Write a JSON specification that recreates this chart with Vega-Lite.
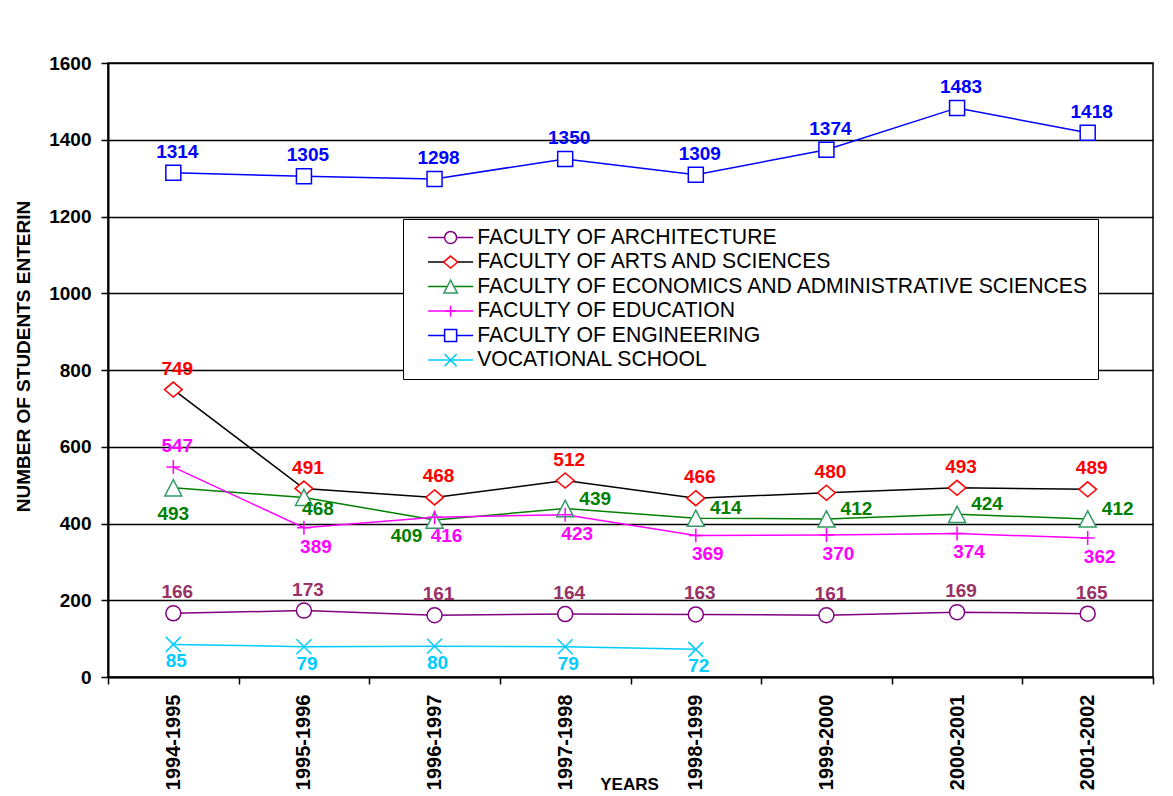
{
  "$schema": "https://vega.github.io/schema/vega-lite/v6.json",
  "width": 1045,
  "height": 614,
  "autosize": {"type": "none"},
  "padding": {"left": 108, "top": 63, "right": 20, "bottom": 119},
  "background": "white",
  "config": {
    "font": "Liberation Sans",
    "view": {"stroke": "black", "strokeWidth": 1.5}
  },
  "data": {
    "values": [
      {"faculty": "FACULTY OF ARCHITECTURE", "year": "1994-1995", "students": 166},
      {"faculty": "FACULTY OF ARCHITECTURE", "year": "1995-1996", "students": 173},
      {"faculty": "FACULTY OF ARCHITECTURE", "year": "1996-1997", "students": 161},
      {"faculty": "FACULTY OF ARCHITECTURE", "year": "1997-1998", "students": 164},
      {"faculty": "FACULTY OF ARCHITECTURE", "year": "1998-1999", "students": 163},
      {"faculty": "FACULTY OF ARCHITECTURE", "year": "1999-2000", "students": 161},
      {"faculty": "FACULTY OF ARCHITECTURE", "year": "2000-2001", "students": 169},
      {"faculty": "FACULTY OF ARCHITECTURE", "year": "2001-2002", "students": 165},
      {"faculty": "FACULTY OF ARTS AND SCIENCES", "year": "1994-1995", "students": 749},
      {"faculty": "FACULTY OF ARTS AND SCIENCES", "year": "1995-1996", "students": 491},
      {"faculty": "FACULTY OF ARTS AND SCIENCES", "year": "1996-1997", "students": 468},
      {"faculty": "FACULTY OF ARTS AND SCIENCES", "year": "1997-1998", "students": 512},
      {"faculty": "FACULTY OF ARTS AND SCIENCES", "year": "1998-1999", "students": 466},
      {"faculty": "FACULTY OF ARTS AND SCIENCES", "year": "1999-2000", "students": 480},
      {"faculty": "FACULTY OF ARTS AND SCIENCES", "year": "2000-2001", "students": 493},
      {"faculty": "FACULTY OF ARTS AND SCIENCES", "year": "2001-2002", "students": 489},
      {"faculty": "FACULTY OF ECONOMICS AND ADMINISTRATIVE SCIENCES", "year": "1994-1995", "students": 493},
      {"faculty": "FACULTY OF ECONOMICS AND ADMINISTRATIVE SCIENCES", "year": "1995-1996", "students": 468},
      {"faculty": "FACULTY OF ECONOMICS AND ADMINISTRATIVE SCIENCES", "year": "1996-1997", "students": 409},
      {"faculty": "FACULTY OF ECONOMICS AND ADMINISTRATIVE SCIENCES", "year": "1997-1998", "students": 439},
      {"faculty": "FACULTY OF ECONOMICS AND ADMINISTRATIVE SCIENCES", "year": "1998-1999", "students": 414},
      {"faculty": "FACULTY OF ECONOMICS AND ADMINISTRATIVE SCIENCES", "year": "1999-2000", "students": 412},
      {"faculty": "FACULTY OF ECONOMICS AND ADMINISTRATIVE SCIENCES", "year": "2000-2001", "students": 424},
      {"faculty": "FACULTY OF ECONOMICS AND ADMINISTRATIVE SCIENCES", "year": "2001-2002", "students": 412},
      {"faculty": "FACULTY OF EDUCATION", "year": "1994-1995", "students": 547},
      {"faculty": "FACULTY OF EDUCATION", "year": "1995-1996", "students": 389},
      {"faculty": "FACULTY OF EDUCATION", "year": "1996-1997", "students": 416},
      {"faculty": "FACULTY OF EDUCATION", "year": "1997-1998", "students": 423},
      {"faculty": "FACULTY OF EDUCATION", "year": "1998-1999", "students": 369},
      {"faculty": "FACULTY OF EDUCATION", "year": "1999-2000", "students": 370},
      {"faculty": "FACULTY OF EDUCATION", "year": "2000-2001", "students": 374},
      {"faculty": "FACULTY OF EDUCATION", "year": "2001-2002", "students": 362},
      {"faculty": "FACULTY OF ENGINEERING", "year": "1994-1995", "students": 1314},
      {"faculty": "FACULTY OF ENGINEERING", "year": "1995-1996", "students": 1305},
      {"faculty": "FACULTY OF ENGINEERING", "year": "1996-1997", "students": 1298},
      {"faculty": "FACULTY OF ENGINEERING", "year": "1997-1998", "students": 1350},
      {"faculty": "FACULTY OF ENGINEERING", "year": "1998-1999", "students": 1309},
      {"faculty": "FACULTY OF ENGINEERING", "year": "1999-2000", "students": 1374},
      {"faculty": "FACULTY OF ENGINEERING", "year": "2000-2001", "students": 1483},
      {"faculty": "FACULTY OF ENGINEERING", "year": "2001-2002", "students": 1418},
      {"faculty": "VOCATIONAL SCHOOL", "year": "1994-1995", "students": 85},
      {"faculty": "VOCATIONAL SCHOOL", "year": "1995-1996", "students": 79},
      {"faculty": "VOCATIONAL SCHOOL", "year": "1996-1997", "students": 80},
      {"faculty": "VOCATIONAL SCHOOL", "year": "1997-1998", "students": 79},
      {"faculty": "VOCATIONAL SCHOOL", "year": "1998-1999", "students": 72}
    ]
  },
  "encoding": {
    "x": {
      "field": "year",
      "type": "ordinal",
      "bandPosition": 0.5,
      "scale": {"type": "band", "paddingInner": 0, "paddingOuter": 0},
      "axis": {
        "title": "YEARS",
        "labelAngle": 270,
        "labelFontWeight": "bold",
        "labelFontSize": 20,
        "labelColor": "black",
        "labelPadding": 10,
        "tickBand": "extent",
        "tickSize": 7,
        "tickColor": "black",
        "tickWidth": 1.5,
        "domainColor": "black",
        "domainWidth": 2,
        "grid": false,
        "titleFontSize": 17,
        "titleFontWeight": "bold",
        "titleColor": "black",
        "titleX": 521,
        "titleY": 112,
        "titleBaseline": "alphabetic",
        "titleAlign": "center"
      }
    },
    "y": {
      "field": "students",
      "type": "quantitative",
      "scale": {"domain": [0, 1600], "nice": false},
      "axis": {
        "title": "NUMBER OF STUDENTS ENTERIN",
        "values": [0, 200, 400, 600, 800, 1000, 1200, 1400, 1600],
        "format": "d",
        "grid": true,
        "gridColor": "black",
        "gridWidth": 1.3,
        "gridOpacity": 1,
        "domainColor": "black",
        "domainWidth": 2,
        "tickColor": "black",
        "tickSize": 7,
        "tickWidth": 1.5,
        "labelFontSize": 19,
        "labelFontWeight": "bold",
        "labelColor": "black",
        "labelPadding": 10,
        "titleFontSize": 19,
        "titleFontWeight": "bold",
        "titleColor": "black",
        "titleAngle": 270,
        "titleX": -79,
        "titleY": 293,
        "titleBaseline": "alphabetic",
        "titleAlign": "center"
      }
    }
  },
  "layer": [
    {
      "mark": {"type": "line", "strokeWidth": 1.5},
      "encoding": {
        "color": {
          "field": "faculty",
          "type": "nominal",
          "scale": {
            "domain": ["FACULTY OF ARCHITECTURE", "FACULTY OF ARTS AND SCIENCES", "FACULTY OF ECONOMICS AND ADMINISTRATIVE SCIENCES", "FACULTY OF EDUCATION", "FACULTY OF ENGINEERING", "VOCATIONAL SCHOOL"],
            "range": ["#800080", "#000000", "#008000", "#FF00FF", "#0000FF", "#00CCFF"]
          },
          "legend": {
            "orient": "none",
            "legendX": 295,
            "legendY": 156,
            "title": null,
            "symbolType": "M-3.75,0H3.75",
            "symbolSize": 144,
            "symbolStrokeWidth": 1.5,
            "symbolFillColor": "transparent",
            "symbolOffset": 29,
            "labelOffset": 16,
            "labelFontSize": 21.2,
            "labelColor": "black",
            "labelLimit": 1000,
            "padding": 8,
            "rowPadding": 2.5,
            "strokeColor": "black",
            "fillColor": "white",
            "zindex": 1
          }
        }
      }
    },
    {
      "mark": {"type": "point", "fill": "white", "strokeWidth": 1.5, "size": 225, "opacity": 1},
      "encoding": {
        "stroke": {
          "field": "faculty",
          "type": "nominal",
          "scale": {"range": ["#800080", "#FF0000", "#339966", "#FF00FF", "#0000FF", "#00CCFF"]},
          "legend": {
            "orient": "none",
            "legendX": 295,
            "legendY": 156,
            "title": null,
            "symbolSize": 144,
            "symbolStrokeWidth": 1.5,
            "symbolFillColor": "white",
            "symbolOffset": 29,
            "labelOffset": 16,
            "labelFontSize": 21.2,
            "labelOpacity": 0,
            "labelLimit": 1000,
            "padding": 8,
            "rowPadding": 2.5,
            "zindex": 2
          }
        },
        "shape": {
          "field": "faculty",
          "type": "nominal",
          "scale": {"range": ["circle", "M0,-1L1.18,0L0,1L-1.18,0Z", "M0,-1.08L1.13,1.08L-1.13,1.08Z", "M-0.93,0H0.93M0,-0.93V0.93", "square", "M-1,-1L1,1M-1,1L1,-1"]},
          "legend": {
            "orient": "none",
            "legendX": 295,
            "legendY": 156,
            "title": null,
            "symbolSize": 144,
            "symbolStrokeWidth": 1.5,
            "symbolFillColor": "white",
            "symbolOffset": 29,
            "labelOffset": 16,
            "labelFontSize": 21.2,
            "labelOpacity": 0,
            "labelLimit": 1000,
            "padding": 8,
            "rowPadding": 2.5,
            "zindex": 2
          }
        }
      }
    },
    {
      "transform": [{"filter": "datum.faculty == 'FACULTY OF ARCHITECTURE' || datum.faculty == 'FACULTY OF ARTS AND SCIENCES' || datum.faculty == 'FACULTY OF ENGINEERING' || (datum.faculty == 'FACULTY OF EDUCATION' && datum.year == '1994-1995')"}],
      "mark": {"type": "text", "fontWeight": "bold", "fontSize": 19, "dx": 4, "dy": -21, "baseline": "middle", "align": "center"},
      "encoding": {
        "text": {"field": "students", "type": "quantitative", "format": "d"},
        "fill": {"field": "faculty", "type": "nominal", "scale": {"range": ["#993366", "#FF0000", "#008000", "#FF00FF", "#0000FF", "#00CCFF"]}, "legend": null}
      }
    },
    {
      "transform": [{"filter": "datum.faculty == 'FACULTY OF EDUCATION' && datum.year != '1994-1995'"}],
      "mark": {"type": "text", "fontWeight": "bold", "fontSize": 19, "dx": 12, "dy": 19, "baseline": "middle", "align": "center"},
      "encoding": {
        "text": {"field": "students", "type": "quantitative", "format": "d"},
        "fill": {"field": "faculty", "type": "nominal", "legend": null}
      }
    },
    {
      "transform": [{"filter": "datum.faculty == 'VOCATIONAL SCHOOL'"}],
      "mark": {"type": "text", "fontWeight": "bold", "fontSize": 19, "dx": 3, "dy": 17, "baseline": "middle", "align": "center"},
      "encoding": {
        "text": {"field": "students", "type": "quantitative", "format": "d"},
        "fill": {"field": "faculty", "type": "nominal", "legend": null}
      }
    },
    {
      "transform": [{"filter": "datum.faculty == 'FACULTY OF ECONOMICS AND ADMINISTRATIVE SCIENCES' && datum.year == '1994-1995'"}],
      "mark": {"type": "text", "fontWeight": "bold", "fontSize": 19, "dx": 0, "dy": 26, "baseline": "middle", "align": "center"},
      "encoding": {
        "text": {"field": "students", "type": "quantitative", "format": "d"},
        "fill": {"field": "faculty", "type": "nominal", "legend": null}
      }
    },
    {
      "transform": [{"filter": "datum.faculty == 'FACULTY OF ECONOMICS AND ADMINISTRATIVE SCIENCES' && datum.year == '1995-1996'"}],
      "mark": {"type": "text", "fontWeight": "bold", "fontSize": 19, "dx": 14, "dy": 12, "baseline": "middle", "align": "center"},
      "encoding": {
        "text": {"field": "students", "type": "quantitative", "format": "d"},
        "fill": {"field": "faculty", "type": "nominal", "legend": null}
      }
    },
    {
      "transform": [{"filter": "datum.faculty == 'FACULTY OF ECONOMICS AND ADMINISTRATIVE SCIENCES' && datum.year == '1996-1997'"}],
      "mark": {"type": "text", "fontWeight": "bold", "fontSize": 19, "dx": -28, "dy": 16, "baseline": "middle", "align": "center"},
      "encoding": {
        "text": {"field": "students", "type": "quantitative", "format": "d"},
        "fill": {"field": "faculty", "type": "nominal", "legend": null}
      }
    },
    {
      "transform": [{"filter": "datum.faculty == 'FACULTY OF ECONOMICS AND ADMINISTRATIVE SCIENCES' && datum.year > '1996-1997'"}],
      "mark": {"type": "text", "fontWeight": "bold", "fontSize": 19, "dx": 30, "dy": -10, "baseline": "middle", "align": "center"},
      "encoding": {
        "text": {"field": "students", "type": "quantitative", "format": "d"},
        "fill": {"field": "faculty", "type": "nominal", "legend": null}
      }
    }
  ]
}
